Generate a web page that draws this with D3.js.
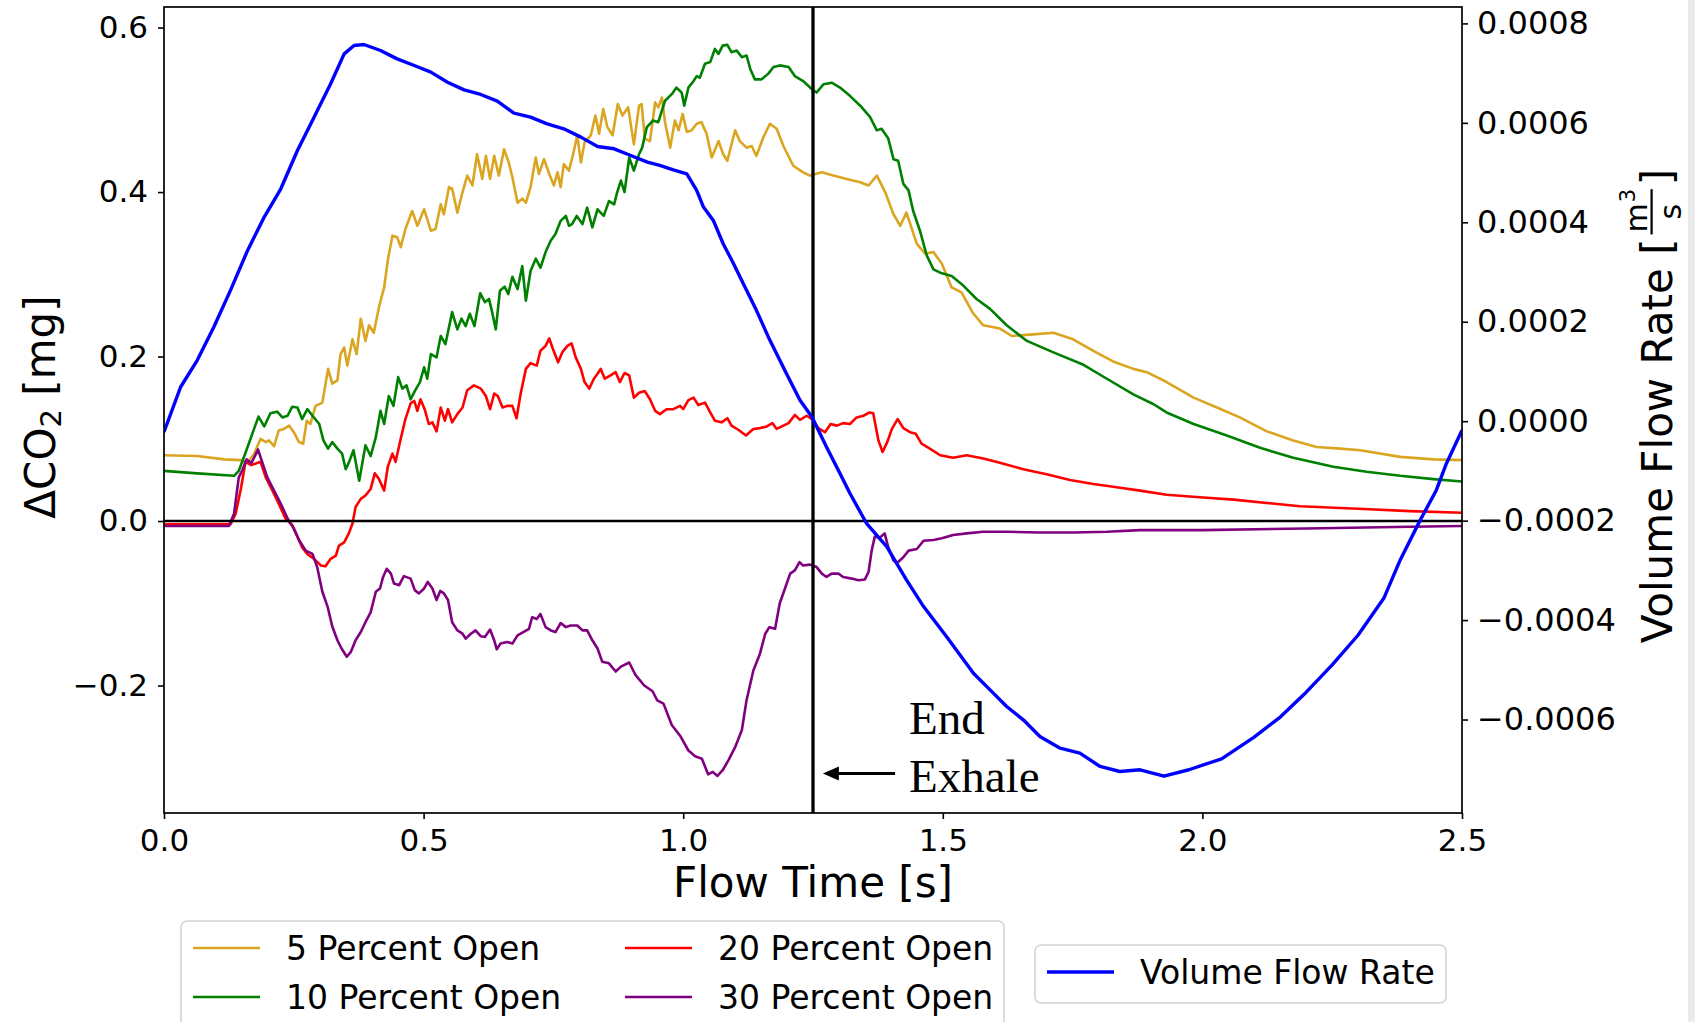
<!DOCTYPE html>
<html>
<head>
<meta charset="utf-8">
<script src="https://cdn.jsdelivr.net/npm/d3@7"></script>
<style>
  body { margin: 0; background: #fff; }
  svg text { font-family: "DejaVu Sans", sans-serif; }
</style>
</head>
<body>
<div id="chart_area"></div>
<script>
// ---- data ----
var xTicks = [0, 0.5, 1.0, 1.5, 2.0, 2.5];
var leftTicks = [-0.2, 0.0, 0.2, 0.4, 0.6];
var rightTicks = [-0.0006, -0.0004, -0.0002, 0.0, 0.0002, 0.0004, 0.0006, 0.0008];
var endExhaleTime = 1.25;

// [time s, delta CO2 mg]
var open5 = [[0,0.080],[0.064,0.079],[0.116,0.075],[0.148,0.074],[0.161,0.071],[0.173,0.081],[0.186,0.100],[0.196,0.096],[0.202,0.098],[0.212,0.091],[0.221,0.110],[0.231,0.112],[0.241,0.116],[0.250,0.108],[0.260,0.096],[0.268,0.094],[0.275,0.122],[0.282,0.118],[0.292,0.140],[0.305,0.144],[0.316,0.185],[0.324,0.167],[0.334,0.171],[0.340,0.203],[0.347,0.211],[0.353,0.189],[0.363,0.221],[0.371,0.203],[0.379,0.246],[0.388,0.219],[0.395,0.238],[0.404,0.229],[0.414,0.260],[0.424,0.284],[0.431,0.317],[0.440,0.347],[0.449,0.345],[0.456,0.333],[0.465,0.355],[0.478,0.377],[0.488,0.359],[0.501,0.379],[0.514,0.353],[0.523,0.355],[0.533,0.385],[0.539,0.373],[0.549,0.406],[0.555,0.404],[0.565,0.375],[0.575,0.400],[0.584,0.420],[0.594,0.408],[0.603,0.446],[0.613,0.416],[0.620,0.444],[0.628,0.416],[0.636,0.444],[0.645,0.420],[0.655,0.452],[0.664,0.436],[0.671,0.418],[0.681,0.387],[0.690,0.392],[0.697,0.387],[0.706,0.406],[0.716,0.442],[0.722,0.422],[0.732,0.440],[0.742,0.422],[0.751,0.408],[0.758,0.424],[0.764,0.406],[0.770,0.434],[0.780,0.426],[0.788,0.446],[0.796,0.469],[0.803,0.436],[0.810,0.460],[0.822,0.469],[0.831,0.493],[0.838,0.471],[0.846,0.501],[0.854,0.479],[0.864,0.469],[0.874,0.507],[0.883,0.493],[0.894,0.503],[0.905,0.458],[0.915,0.505],[0.920,0.507],[0.926,0.465],[0.936,0.462],[0.946,0.509],[0.952,0.503],[0.959,0.515],[0.965,0.485],[0.975,0.454],[0.984,0.487],[0.991,0.475],[0.999,0.495],[1.007,0.473],[1.016,0.475],[1.026,0.483],[1.035,0.485],[1.045,0.471],[1.055,0.442],[1.068,0.462],[1.077,0.446],[1.085,0.438],[1.100,0.475],[1.109,0.462],[1.122,0.454],[1.132,0.456],[1.141,0.444],[1.154,0.466],[1.167,0.483],[1.180,0.477],[1.193,0.456],[1.212,0.432],[1.231,0.424],[1.244,0.420],[1.267,0.424],[1.289,0.420],[1.315,0.416],[1.341,0.412],[1.357,0.408],[1.373,0.420],[1.389,0.400],[1.405,0.373],[1.418,0.359],[1.430,0.375],[1.450,0.337],[1.466,0.325],[1.482,0.327],[1.498,0.313],[1.517,0.284],[1.536,0.278],[1.559,0.252],[1.578,0.238],[1.610,0.234],[1.633,0.225],[1.674,0.227],[1.713,0.229],[1.751,0.221],[1.790,0.207],[1.828,0.194],[1.867,0.185],[1.893,0.181],[1.931,0.169],[1.983,0.150],[2.028,0.138],[2.072,0.126],[2.124,0.109],[2.175,0.098],[2.220,0.090],[2.265,0.088],[2.304,0.086],[2.381,0.078],[2.445,0.075],[2.5,0.074]];

var open10 = [[0,0.061],[0.064,0.058],[0.135,0.055],[0.144,0.061],[0.157,0.083],[0.170,0.106],[0.182,0.127],[0.193,0.115],[0.205,0.131],[0.218,0.133],[0.228,0.126],[0.238,0.128],[0.247,0.139],[0.257,0.138],[0.266,0.124],[0.276,0.136],[0.286,0.128],[0.299,0.118],[0.307,0.098],[0.316,0.088],[0.324,0.096],[0.334,0.088],[0.343,0.082],[0.350,0.063],[0.356,0.071],[0.365,0.086],[0.376,0.049],[0.388,0.092],[0.398,0.079],[0.408,0.102],[0.417,0.134],[0.424,0.118],[0.433,0.152],[0.442,0.140],[0.451,0.175],[0.459,0.161],[0.467,0.165],[0.475,0.148],[0.483,0.158],[0.493,0.169],[0.501,0.187],[0.507,0.173],[0.514,0.203],[0.525,0.199],[0.533,0.225],[0.542,0.215],[0.555,0.254],[0.565,0.233],[0.573,0.246],[0.581,0.237],[0.589,0.252],[0.598,0.237],[0.609,0.277],[0.618,0.266],[0.626,0.270],[0.632,0.254],[0.639,0.233],[0.647,0.280],[0.656,0.285],[0.663,0.276],[0.671,0.297],[0.681,0.282],[0.690,0.310],[0.697,0.268],[0.706,0.304],[0.716,0.319],[0.725,0.308],[0.735,0.327],[0.745,0.341],[0.754,0.349],[0.764,0.365],[0.774,0.371],[0.780,0.359],[0.786,0.361],[0.795,0.371],[0.806,0.361],[0.815,0.381],[0.825,0.357],[0.835,0.379],[0.847,0.371],[0.857,0.389],[0.867,0.385],[0.873,0.400],[0.880,0.414],[0.887,0.400],[0.896,0.442],[0.905,0.426],[0.915,0.446],[0.921,0.454],[0.930,0.479],[0.942,0.487],[0.952,0.485],[0.965,0.511],[0.978,0.519],[0.987,0.527],[0.997,0.521],[1.002,0.505],[1.010,0.527],[1.020,0.535],[1.026,0.541],[1.032,0.539],[1.042,0.556],[1.052,0.558],[1.061,0.574],[1.068,0.568],[1.076,0.578],[1.085,0.579],[1.093,0.570],[1.103,0.572],[1.113,0.564],[1.122,0.566],[1.129,0.550],[1.138,0.537],[1.151,0.537],[1.164,0.544],[1.174,0.552],[1.186,0.554],[1.203,0.552],[1.215,0.541],[1.231,0.535],[1.248,0.525],[1.257,0.521],[1.270,0.531],[1.286,0.533],[1.302,0.527],[1.321,0.517],[1.341,0.505],[1.360,0.491],[1.373,0.475],[1.382,0.477],[1.395,0.465],[1.405,0.440],[1.414,0.438],[1.424,0.410],[1.434,0.402],[1.443,0.377],[1.456,0.353],[1.469,0.323],[1.482,0.306],[1.495,0.302],[1.517,0.298],[1.540,0.286],[1.565,0.270],[1.591,0.258],[1.623,0.238],[1.662,0.219],[1.713,0.205],[1.771,0.190],[1.816,0.173],[1.867,0.154],[1.906,0.142],[1.931,0.132],[1.983,0.118],[2.047,0.104],[2.111,0.089],[2.175,0.077],[2.252,0.066],[2.316,0.060],[2.381,0.055],[2.445,0.051],[2.5,0.048]];

var open20 = [[0,-0.004],[0.128,-0.004],[0.138,0.009],[0.148,0.039],[0.157,0.072],[0.168,0.068],[0.177,0.070],[0.186,0.072],[0.196,0.053],[0.209,0.037],[0.221,0.021],[0.234,0.003],[0.247,-0.005],[0.257,-0.019],[0.266,-0.032],[0.276,-0.040],[0.289,-0.046],[0.302,-0.054],[0.311,-0.055],[0.321,-0.046],[0.331,-0.042],[0.337,-0.030],[0.347,-0.026],[0.356,-0.015],[0.363,-0.003],[0.369,0.017],[0.379,0.027],[0.388,0.031],[0.398,0.039],[0.406,0.058],[0.414,0.051],[0.424,0.037],[0.431,0.066],[0.440,0.082],[0.446,0.072],[0.456,0.100],[0.465,0.124],[0.475,0.143],[0.482,0.146],[0.488,0.134],[0.494,0.148],[0.502,0.136],[0.510,0.118],[0.517,0.120],[0.525,0.109],[0.533,0.138],[0.541,0.122],[0.547,0.136],[0.555,0.120],[0.565,0.130],[0.575,0.138],[0.584,0.159],[0.597,0.165],[0.610,0.161],[0.620,0.152],[0.628,0.136],[0.636,0.155],[0.643,0.152],[0.652,0.138],[0.661,0.140],[0.671,0.140],[0.679,0.125],[0.687,0.155],[0.697,0.185],[0.706,0.192],[0.718,0.189],[0.725,0.207],[0.735,0.213],[0.742,0.222],[0.748,0.211],[0.759,0.193],[0.767,0.205],[0.777,0.213],[0.785,0.216],[0.793,0.199],[0.803,0.185],[0.810,0.169],[0.819,0.161],[0.828,0.173],[0.835,0.179],[0.841,0.185],[0.849,0.173],[0.860,0.177],[0.870,0.181],[0.878,0.169],[0.887,0.180],[0.896,0.177],[0.905,0.150],[0.915,0.156],[0.926,0.158],[0.936,0.148],[0.946,0.134],[0.955,0.130],[0.968,0.136],[0.981,0.136],[0.994,0.140],[1.000,0.136],[1.010,0.147],[1.020,0.150],[1.029,0.141],[1.042,0.144],[1.052,0.132],[1.061,0.122],[1.074,0.120],[1.085,0.125],[1.093,0.116],[1.106,0.111],[1.121,0.104],[1.135,0.112],[1.148,0.113],[1.161,0.115],[1.172,0.119],[1.180,0.112],[1.193,0.116],[1.203,0.119],[1.215,0.129],[1.225,0.123],[1.238,0.128],[1.248,0.124],[1.260,0.113],[1.273,0.108],[1.284,0.118],[1.296,0.116],[1.308,0.119],[1.321,0.118],[1.334,0.126],[1.347,0.128],[1.359,0.132],[1.366,0.131],[1.376,0.098],[1.384,0.084],[1.393,0.096],[1.402,0.112],[1.413,0.124],[1.424,0.113],[1.437,0.108],[1.448,0.106],[1.459,0.094],[1.475,0.088],[1.495,0.080],[1.520,0.077],[1.546,0.080],[1.578,0.076],[1.610,0.071],[1.655,0.063],[1.700,0.057],[1.745,0.050],[1.790,0.045],[1.835,0.041],[1.880,0.037],[1.931,0.032],[1.995,0.029],[2.060,0.026],[2.124,0.022],[2.188,0.018],[2.300,0.015],[2.400,0.012],[2.5,0.010]];

var open30 = [[0,-0.006],[0.125,-0.006],[0.135,0.009],[0.144,0.053],[0.151,0.062],[0.159,0.075],[0.168,0.070],[0.175,0.079],[0.181,0.087],[0.189,0.072],[0.199,0.053],[0.212,0.037],[0.225,0.021],[0.238,0.003],[0.250,-0.009],[0.260,-0.023],[0.273,-0.036],[0.286,-0.040],[0.295,-0.056],[0.305,-0.086],[0.315,-0.104],[0.324,-0.128],[0.334,-0.145],[0.342,-0.155],[0.352,-0.165],[0.360,-0.159],[0.369,-0.145],[0.379,-0.135],[0.388,-0.123],[0.398,-0.111],[0.408,-0.086],[0.416,-0.082],[0.422,-0.068],[0.429,-0.058],[0.437,-0.064],[0.443,-0.076],[0.453,-0.078],[0.462,-0.067],[0.475,-0.070],[0.483,-0.084],[0.491,-0.088],[0.501,-0.082],[0.508,-0.074],[0.517,-0.082],[0.525,-0.096],[0.532,-0.085],[0.539,-0.088],[0.547,-0.096],[0.555,-0.123],[0.565,-0.133],[0.575,-0.137],[0.581,-0.143],[0.591,-0.137],[0.600,-0.133],[0.610,-0.140],[0.618,-0.141],[0.628,-0.132],[0.636,-0.145],[0.641,-0.156],[0.648,-0.149],[0.661,-0.147],[0.671,-0.149],[0.681,-0.139],[0.692,-0.135],[0.703,-0.131],[0.709,-0.117],[0.718,-0.119],[0.725,-0.113],[0.735,-0.129],[0.745,-0.133],[0.754,-0.135],[0.764,-0.124],[0.774,-0.129],[0.783,-0.127],[0.796,-0.127],[0.806,-0.133],[0.815,-0.133],[0.825,-0.145],[0.835,-0.155],[0.844,-0.171],[0.857,-0.173],[0.870,-0.183],[0.880,-0.177],[0.896,-0.172],[0.908,-0.187],[0.925,-0.200],[0.941,-0.207],[0.950,-0.218],[0.962,-0.222],[0.978,-0.248],[0.994,-0.261],[1.010,-0.279],[1.023,-0.286],[1.036,-0.289],[1.048,-0.308],[1.057,-0.305],[1.066,-0.310],[1.076,-0.303],[1.087,-0.291],[1.100,-0.275],[1.113,-0.254],[1.122,-0.218],[1.135,-0.182],[1.148,-0.161],[1.158,-0.137],[1.166,-0.129],[1.177,-0.131],[1.186,-0.100],[1.196,-0.082],[1.206,-0.064],[1.215,-0.060],[1.224,-0.050],[1.231,-0.054],[1.244,-0.053],[1.257,-0.056],[1.267,-0.064],[1.276,-0.068],[1.286,-0.064],[1.299,-0.064],[1.308,-0.068],[1.325,-0.070],[1.337,-0.072],[1.350,-0.071],[1.357,-0.062],[1.363,-0.036],[1.369,-0.019],[1.379,-0.020],[1.388,-0.015],[1.395,-0.032],[1.405,-0.048],[1.412,-0.051],[1.424,-0.044],[1.434,-0.036],[1.450,-0.034],[1.463,-0.024],[1.482,-0.023],[1.498,-0.021],[1.520,-0.017],[1.546,-0.015],[1.578,-0.013],[1.623,-0.013],[1.687,-0.014],[1.751,-0.014],[1.816,-0.013],[1.880,-0.011],[2.000,-0.011],[2.200,-0.009],[2.400,-0.007],[2.5,-0.006]];

// [time s, volume flow rate m^3/s]
var flowRate = [[0,-0.217e-4],[0.032,0.688e-4],[0.064,1.224e-4],[0.096,1.894e-4],[0.128,2.631e-4],[0.161,3.435e-4],[0.193,4.105e-4],[0.225,4.674e-4],[0.257,5.445e-4],[0.289,6.115e-4],[0.321,6.785e-4],[0.347,7.388e-4],[0.366,7.555e-4],[0.385,7.576e-4],[0.417,7.455e-4],[0.449,7.287e-4],[0.482,7.153e-4],[0.514,7.02e-4],[0.546,6.818e-4],[0.578,6.664e-4],[0.610,6.571e-4],[0.642,6.437e-4],[0.674,6.195e-4],[0.706,6.115e-4],[0.738,5.981e-4],[0.770,5.88e-4],[0.803,5.713e-4],[0.835,5.525e-4],[0.867,5.478e-4],[0.899,5.344e-4],[0.931,5.21e-4],[0.955,5.143e-4],[0.981,5.056e-4],[1.007,4.976e-4],[1.026,4.641e-4],[1.039,4.306e-4],[1.058,4.038e-4],[1.077,3.569e-4],[1.097,3.167e-4],[1.122,2.631e-4],[1.141,2.229e-4],[1.167,1.626e-4],[1.199,0.956e-4],[1.225,0.42e-4],[1.248,0.085e-4],[1.276,-0.518e-4],[1.302,-1.054e-4],[1.321,-1.45e-4],[1.353,-2.053e-4],[1.392,-2.522e-4],[1.430,-3.192e-4],[1.463,-3.728e-4],[1.507,-4.331e-4],[1.559,-5.068e-4],[1.591,-5.403e-4],[1.623,-5.738e-4],[1.655,-6.006e-4],[1.687,-6.341e-4],[1.726,-6.576e-4],[1.764,-6.676e-4],[1.803,-6.944e-4],[1.841,-7.045e-4],[1.880,-7.011e-4],[1.926,-7.14e-4],[1.974,-7.01e-4],[2.037,-6.79e-4],[2.099,-6.36e-4],[2.150,-5.95e-4],[2.200,-5.45e-4],[2.250,-4.9e-4],[2.300,-4.3e-4],[2.350,-3.55e-4],[2.381,-2.79e-4],[2.419,-2.0e-4],[2.450,-1.4e-4],[2.470,-0.85e-4],[2.5,-0.18e-4]];

var series = [
  { name: "5 Percent Open", data: open5, color: "#daa520" },
  { name: "10 Percent Open", data: open10, color: "#008000" },
  { name: "20 Percent Open", data: open20, color: "#ff0000" },
  { name: "30 Percent Open", data: open30, color: "#800080" }
];

// ---- layout ----
var W = 1695, H = 1022;
var margin = { top: 7, left: 164 },
    width = 1298,
    height = 806;

var svg = d3.select("#chart_area").append("svg")
    .attr("width", W).attr("height", H);
svg.append("rect").attr("width", W).attr("height", H).attr("fill", "#fff");
svg.append("rect").attr("x", 1688).attr("width", W - 1688).attr("height", H).attr("fill", "#ebebeb");

var g = svg.append("g").attr("transform", "translate(" + margin.left + "," + margin.top + ")");

var x = d3.scaleLinear().domain([0, 2.5]).range([0, width]);
var y = d3.scaleLinear().domain([-0.355, 0.625]).range([height, 0]);
var y2 = d3.scaleLinear().domain([-0.000788, 0.000833]).range([height, 0]);

g.append("clipPath").attr("id", "plotclip")
  .append("rect").attr("width", width).attr("height", height);

var plot = g.append("g").attr("clip-path", "url(#plotclip)");

var line = d3.line().x(function (d) { return x(d[0]); }).y(function (d) { return y(d[1]); });
var line2 = d3.line().x(function (d) { return x(d[0]); }).y(function (d) { return y2(d[1]); });

series.forEach(function (s) {
  plot.append("path")
    .attr("d", line(s.data))
    .attr("fill", "none")
    .attr("stroke", s.color)
    .attr("stroke-width", 2.6)
    .attr("stroke-linejoin", "round");
});

// zero line and end-of-exhale marker
plot.append("line")
  .attr("x1", 0).attr("x2", width)
  .attr("y1", y(0)).attr("y2", y(0))
  .attr("stroke", "#000").attr("stroke-width", 2.6);
plot.append("line")
  .attr("x1", x(endExhaleTime)).attr("x2", x(endExhaleTime))
  .attr("y1", 0).attr("y2", height)
  .attr("stroke", "#000").attr("stroke-width", 3.3);

// volume flow rate on the twin axis
plot.append("path")
  .attr("d", line2(flowRate))
  .attr("fill", "none")
  .attr("stroke", "#0000ff")
  .attr("stroke-width", 3.4)
  .attr("stroke-linejoin", "round");

// annotation: arrow + text
var arrowTip = [1.269, -0.307], arrowTail = [1.408, -0.307];
var tipX = x(arrowTip[0]), tipY = y(arrowTip[1]);
g.append("line")
  .attr("x1", x(arrowTail[0])).attr("x2", tipX + 14)
  .attr("y1", y(arrowTail[1])).attr("y2", tipY)
  .attr("stroke", "#000").attr("stroke-width", 3);
g.append("path")
  .attr("d", "M" + tipX + "," + tipY + "L" + (tipX + 16) + "," + (tipY - 7) + "L" + (tipX + 16) + "," + (tipY + 7) + "Z")
  .attr("fill", "#000");
var ann = g.append("text")
  .attr("x", x(1.435)).attr("y", y(-0.259))
  .style("font-family", "'Liberation Serif', serif")
  .style("font-size", "47px")
  .attr("fill", "#000");
ann.append("tspan").attr("x", x(1.435)).text("End");
ann.append("tspan").attr("x", x(1.435)).attr("dy", 58).text("Exhale");

// ---- axes ----
function styleAxis(sel, size) {
  sel.attr("font-family", "DejaVu Sans").attr("font-size", size);
  sel.select(".domain").remove();
  sel.selectAll(".tick line").attr("stroke", "#000").attr("stroke-width", 1.6);
  sel.selectAll(".tick text").attr("fill", "#000");
}

var xAxisG = g.append("g").attr("transform", "translate(0," + height + ")")
  .call(d3.axisBottom(x).tickValues(xTicks).tickFormat(d3.format(".1f")).tickSize(6).tickPadding(10));
styleAxis(xAxisG, 31);

var yAxisG = g.append("g")
  .call(d3.axisLeft(y).tickValues(leftTicks).tickFormat(d3.format(".1f")).tickSize(6).tickPadding(10));
styleAxis(yAxisG, 31);

var y2AxisG = g.append("g").attr("transform", "translate(" + width + ",0)")
  .call(d3.axisRight(y2).tickValues(rightTicks).tickFormat(d3.format(".4f")).tickSize(6).tickPadding(9));
styleAxis(y2AxisG, 32);

// spines
g.append("rect").attr("width", width).attr("height", height)
  .attr("fill", "none").attr("stroke", "#000").attr("stroke-width", 1.7);

// axis labels
svg.append("text")
  .attr("x", margin.left + width / 2).attr("y", 897)
  .attr("text-anchor", "middle")
  .style("font-size", "42px")
  .text("Flow Time [s]");

var yl = svg.append("text")
  .attr("transform", "translate(55,407) rotate(-90)")
  .attr("text-anchor", "middle")
  .style("font-size", "42px");
yl.append("tspan").text("\u0394CO");
yl.append("tspan").attr("dy", "0.22em").style("font-size", "29px").text("2");
yl.append("tspan").attr("dy", "-0.15em").text(" [mg]");

// right label with a fraction m^3/s
var rl = svg.append("g").attr("transform", "translate(1672,406) rotate(-90)");
var rlInner = rl.append("g");
var t1 = rlInner.append("text").style("font-size", "42px").text("Volume Flow Rate [");
var w1 = t1.node().getComputedTextLength();
var fx = w1 + 4;
var mT = rlInner.append("text").attr("x", fx + 2).attr("y", -25).style("font-size", "30px").text("m");
var mw = mT.node().getComputedTextLength();
rlInner.append("text").attr("x", fx + 2 + mw + 1).attr("y", -37).style("font-size", "21px").text("3");
var barW = mw + 16;
rlInner.append("rect").attr("x", fx).attr("y", -21.5).attr("width", barW).attr("height", 2.2).attr("fill", "#000");
rlInner.append("text").attr("x", fx + barW / 2).attr("y", 9).attr("text-anchor", "middle").style("font-size", "30px").text("s");
var t3 = rlInner.append("text").attr("x", fx + barW + 4).style("font-size", "42px").text("]");
var total = fx + barW + 4 + t3.node().getComputedTextLength();
rlInner.attr("transform", "translate(" + (-total / 2) + ",0)");

// ---- legends ----
function legendBox(x0, y0, w, h) {
  svg.append("rect")
    .attr("x", x0).attr("y", y0).attr("width", w).attr("height", h)
    .attr("rx", 6).attr("ry", 6)
    .attr("fill", "#fff").attr("fill-opacity", 0.8)
    .attr("stroke", "#d3d3d3").attr("stroke-width", 1.6);
}
function legendItem(x0, yc, color, label, sw) {
  svg.append("line")
    .attr("x1", x0).attr("x2", x0 + 67)
    .attr("y1", yc).attr("y2", yc)
    .attr("stroke", color).attr("stroke-width", sw);
  svg.append("text")
    .attr("x", x0 + 93).attr("y", yc + 12)
    .style("font-size", "33px")
    .attr("fill", "#000")
    .text(label);
}

legendBox(181, 921, 823, 110);
var legendCols = [193, 625], legendRows = [948, 997];
series.forEach(function (s, i) {
  legendItem(legendCols[Math.floor(i / 2)], legendRows[i % 2], s.color, s.name, 2.6);
});

legendBox(1035, 945, 411, 58);
legendItem(1047, 972, "#0000ff", "Volume Flow Rate", 3.4);
</script>
</body>
</html>
